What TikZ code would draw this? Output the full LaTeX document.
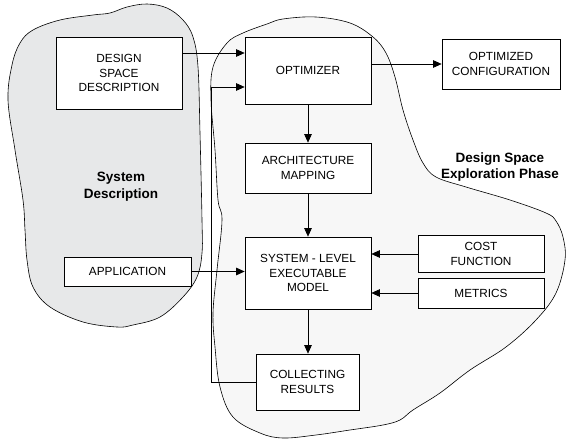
\documentclass[tikz,border=0pt]{standalone}
\usepackage{fontspec}
\setmainfont{Liberation Sans}
\usetikzlibrary{arrows.meta}
\definecolor{blobA}{HTML}{E7E8E9}
\definecolor{blobB}{HTML}{F7F7F7}
\begin{document}
\begin{tikzpicture}[x=1pt,y=-1pt,
  box/.style={draw,line width=0.7pt,fill=white,align=center,inner sep=0pt,
    font=\fontsize{11.8}{14.5}\selectfont},
  lbl/.style={align=center,font=\fontsize{13.5}{16.7}\selectfont\bfseries},
  arr/.style={line width=0.7pt,-{Triangle[length=8.5pt,width=7.5pt]}},
  blob/.style={draw,line width=0.6pt}]
\useasboundingbox (0,0) rectangle (566,441);
% left region
\draw[blob,fill=blobA] plot[smooth cycle,tension=0.6] coordinates {
 (20,43) (33,30) (60,20) (93,15) (110,13) (127,7) (147,4) (167,8) (183,20)
 (193,37) (198,67) (200,133) (202,220) (202,253) (197,277) (183,297) (160,317)
 (133,325) (117,327) (83,322) (50,307) (33,287) (27,260) (25,230) (23,200)
 (15,150) (8,100) (12,65)};
% right region
\draw[blob,fill=blobB] plot[smooth cycle,tension=0.6] coordinates {
 (213,67) (227,43) (243,33) (267,24) (283,19) (316,17) (350,23) (373,37)
 (386,53) (395,77) (403,110) (413,140) (423,163) (436,177) (466,187) (510,200)
 (546,213) (556,221) (563,237) (565,260) (556,293) (536,320) (506,347) (470,370)
 (440,393) (413,410) (400,420) (383,425) (350,430) (316,435) (283,438)
 (260,433) (233,417) (220,387) (215,347) (213,313) (217,270) (222,220)
 (218,200) (215,150) (211,100)};
\node[lbl] (sdl) at (121,187) {System\\Description};
\node[lbl] (dsel) at (500,167) {Design Space\\Exploration Phase};
% boxes
\node[box,minimum width=126pt,minimum height=72pt] (dsd) at (119,73) {DESIGN\\SPACE\\DESCRIPTION};
\node[box,minimum width=126pt,minimum height=67pt] (opt) at (308,70.5) {OPTIMIZER};
\node[box,minimum width=118pt,minimum height=50pt] (oc) at (501,64) {OPTIMIZED\\CONFIGURATION};
\node[box,minimum width=126pt,minimum height=50pt] (arch) at (308,168) {ARCHITECTURE\\MAPPING};
\node[box,minimum width=126pt,minimum height=72pt] (sys) at (308,273) {SYSTEM - LEVEL\\EXECUTABLE\\MODEL};
\node[box,minimum width=126pt,minimum height=37pt] (cost) at (481,254) {COST\\FUNCTION};
\node[box,minimum width=126pt,minimum height=30pt] (met) at (481,293) {METRICS};
\node[box,minimum width=103pt,minimum height=56pt] (col) at (307.5,382) {COLLECTING\\RESULTS};
\node[box,minimum width=127pt,minimum height=29pt] (app) at (127.5,271.5) {APPLICATION};
\coordinate (fb) at (211,87);
% connectors
\draw[arr] ([yshift=20pt]dsd.east) -- ([yshift=20pt]dsd.east -| opt.west);
\draw[arr] (col.west) -- (col.west -| fb) -- (fb) -- (fb -| opt.west);
\draw[arr] (oc.west -| opt.east) -- (oc.west);
\draw[arr] (opt.south) -- (arch.north);
\draw[arr] (arch.south) -- (sys.north);
\draw[arr] (cost.west) -- (cost.west -| sys.east);
\draw[arr] (met.west) -- (met.west -| sys.east);
\draw[arr] (app.east) -- (app.east -| sys.west);
\draw[arr] (sys.south) -- (sys.south |- col.north);
\end{tikzpicture}
\end{document}
